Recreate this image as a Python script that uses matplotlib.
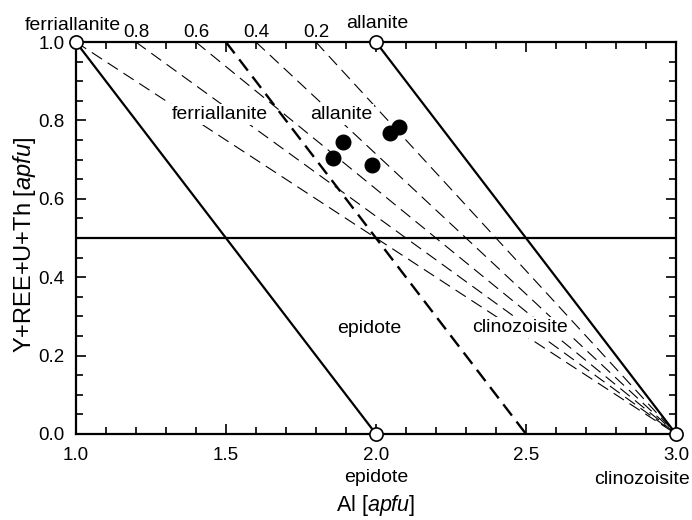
import matplotlib
matplotlib.use("Agg")
import matplotlib.pyplot as plt
from matplotlib.ticker import MultipleLocator, FormatStrFormatter

plt.rcParams['font.family'] = ['Liberation Sans', 'DejaVu Sans']
plt.rcParams['mathtext.fontset'] = 'custom'
plt.rcParams['mathtext.rm'] = 'Liberation Sans'
plt.rcParams['mathtext.it'] = 'Liberation Sans:italic'

# Data
pts_al = [1.857, 1.89, 1.987, 2.047, 2.077]
pts_ree = [0.704, 0.745, 0.686, 0.768, 0.783]

end_al = [1.0, 2.0, 2.0, 3.0]
end_ree = [1.0, 1.0, 0.0, 0.0]

fan_top_al = [1.0, 1.2, 1.4, 1.6, 1.8]
fan_labels = ['', '0.8', '0.6', '0.4', '0.2']
fan_origin = (3.0, 0.0)

solid_lines = [((1.0, 1.0), (2.0, 0.0)), ((2.0, 1.0), (3.0, 0.0))]
thick_dash = ((1.5, 1.0), (2.5, 0.0))
hline_y = 0.5

field_names = ['ferriallanite', 'allanite', 'epidote', 'clinozoisite']
field_x = [1.48, 1.884, 1.977, 2.48]
field_y = [0.804, 0.804, 0.258, 0.26]

fig = plt.figure(figsize=(6.92, 5.2), dpi=100)
ax = fig.add_axes([0.1098, 0.1654, 0.8671, 0.7536])
ax.set_xlim(1.0, 3.0)
ax.set_ylim(0.0, 1.0)

for xt in fan_top_al:
    ax.plot([xt, fan_origin[0]], [1.0, fan_origin[1]], color='black', lw=0.8,
            dashes=(11, 6), zorder=2)
for (a, b) in solid_lines:
    ax.plot([a[0], b[0]], [a[1], b[1]], color='black', lw=1.6, zorder=3)
ax.plot([thick_dash[0][0], thick_dash[1][0]], [thick_dash[0][1], thick_dash[1][1]],
        color='black', lw=1.7, dashes=(6, 3.2), zorder=3)
ax.axhline(hline_y, color='black', lw=1.6, zorder=3)

ax.plot(pts_al, pts_ree, 'o', color='black', ms=10.5, zorder=5)
ax.plot(end_al, end_ree, 'o', mfc='white', mec='black', mew=1.2, ms=9.5,
        clip_on=False, zorder=6)

# field labels
bbox = dict(facecolor='white', edgecolor='none', pad=1.5)
for name, fx, fy in zip(field_names, field_x, field_y):
    ax.text(fx, fy, name, ha='center', va='baseline', fontsize=14, bbox=bbox, zorder=4)

# top fan labels
for xt, lab in zip(fan_top_al, fan_labels):
    if lab:
        ax.text(xt, 1.0128, lab, ha='center', va='baseline', fontsize=13.5)

# end-member labels outside
ax.text(0.99, 1.031, 'ferriallanite', ha='center', va='baseline', fontsize=14, clip_on=False)
ax.text(2.003, 1.036, 'allanite', ha='center', va='baseline', fontsize=14, clip_on=False)
ax.text(2.0, -0.11, 'epidote', ha='center', va='center', fontsize=14, clip_on=False)
ax.text(2.888, -0.115, 'clinozoisite', ha='center', va='center', fontsize=14, clip_on=False)

ax.set_xlabel('Al [$\\it{apfu}$]', fontsize=15.5, va='center')
ax.xaxis.set_label_coords(0.5, -0.1837)
ax.set_ylabel('Y+REE+U+Th [$\\it{apfu}$]', fontsize=17)
ax.yaxis.set_label_coords(-0.063, 0.482)

ax.xaxis.set_major_locator(MultipleLocator(0.5))
ax.xaxis.set_minor_locator(MultipleLocator(0.1))
ax.yaxis.set_major_locator(MultipleLocator(0.2))
ax.yaxis.set_minor_locator(MultipleLocator(0.05))
ax.xaxis.set_major_formatter(FormatStrFormatter('%.1f'))
ax.yaxis.set_major_formatter(FormatStrFormatter('%.1f'))
ax.tick_params(which='both', direction='in', top=True, right=True, labelsize=13.5, width=1.2)
ax.tick_params(which='major', length=7)
ax.tick_params(which='minor', length=5)
ax.tick_params(axis='x', pad=9.5)
ax.tick_params(axis='y', pad=8)
for s in ax.spines.values():
    s.set_linewidth(1.6)

fig.savefig('out.png', dpi=100)
